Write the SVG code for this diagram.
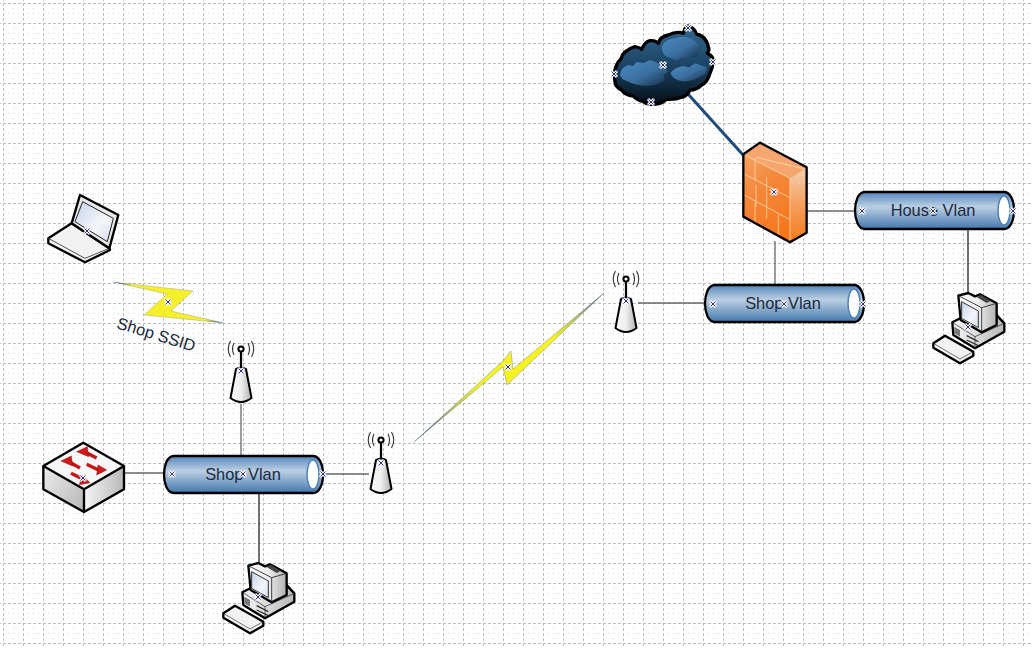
<svg xmlns="http://www.w3.org/2000/svg" xmlns:xlink="http://www.w3.org/1999/xlink" width="1032" height="648" viewBox="0 0 1032 648">
<style>
.lbl{font-family:"Liberation Sans",Arial,sans-serif;font-size:16.4px;fill:#1c2a3c;text-anchor:middle}
.conn{fill:none;stroke:#666;stroke-width:1.3}
.dark{fill:none;stroke:#222;stroke-width:1.3}
.ol{stroke:#000;stroke-linejoin:round;stroke-linecap:round}
.brick{fill:none;stroke:#fbd9a8;stroke-width:2.500}
.ashaft{fill:none;stroke:#c81414;stroke-width:10}
.ahead{fill:#d01818;stroke:#8a1010;stroke-width:1.500;stroke-linejoin:round}
</style>
<defs>
<pattern id="grid" x="3" y="3" width="20" height="20" patternUnits="userSpaceOnUse">
<rect width="20" height="20" fill="#fff"/>
<path d="M0 10.500H20M10.500 0V20" stroke="#d8d8d8" stroke-width="1" stroke-dasharray="1 4" fill="none"/>
<path d="M0 .5H20M.5 0V20" stroke="#bdbdbd" stroke-width="1" stroke-dasharray="3 2" fill="none"/>
</pattern>
<linearGradient id="cyl" x1="0" y1="0" x2="0" y2="1"><stop offset="0" stop-color="#5485ba"/><stop offset=".4" stop-color="#bccfe3"/><stop offset="1" stop-color="#4377ae"/></linearGradient>
<linearGradient id="body" x1="0" y1="0" x2="1" y2="0"><stop offset="0" stop-color="#f8f8f8"/><stop offset=".5" stop-color="#efefef"/><stop offset="1" stop-color="#b0b0b0"/></linearGradient>
<linearGradient id="swl" x1="0" y1="0" x2="1" y2="1"><stop offset="0" stop-color="#eee"/><stop offset="1" stop-color="#b5b5b5"/></linearGradient>
<linearGradient id="swr" x1="0" y1="0" x2="1" y2="0"><stop offset="0" stop-color="#f6f6f6"/><stop offset="1" stop-color="#b8b8b8"/></linearGradient>
<linearGradient id="scr" x1="0" y1="0" x2="1" y2="1"><stop offset="0" stop-color="#c4d3ea"/><stop offset=".6" stop-color="#f4f6fb"/><stop offset="1" stop-color="#d4deee"/></linearGradient>
<linearGradient id="fwf" gradientUnits="userSpaceOnUse" x1="430" y1="430" x2="620" y2="700"><stop offset="0" stop-color="#f7a469"/><stop offset=".35" stop-color="#f5873a"/><stop offset="1" stop-color="#f56f10"/></linearGradient>
<linearGradient id="fws" x1="0" y1="0" x2="0" y2="1"><stop offset="0" stop-color="#f3d2b4"/><stop offset=".55" stop-color="#f59a55"/><stop offset="1" stop-color="#f67b1c"/></linearGradient>
<linearGradient id="cl" x1="0" y1="0" x2="0" y2="1"><stop offset="0" stop-color="#33688f"/><stop offset=".5" stop-color="#1c4364"/><stop offset="1" stop-color="#050e18"/></linearGradient>
<linearGradient id="puff" x1="0" y1="0" x2="1" y2="1"><stop offset="0" stop-color="#4c8bc4"/><stop offset=".55" stop-color="#3a6f9f"/><stop offset="1" stop-color="#132c44"/></linearGradient>
<linearGradient id="l1" gradientUnits="userSpaceOnUse" x1="113" y1="282" x2="224" y2="323"><stop offset="0" stop-color="#27497a"/><stop offset=".16" stop-color="#f6f02a"/><stop offset=".84" stop-color="#f6f02a"/><stop offset="1" stop-color="#27497a"/></linearGradient>
<linearGradient id="l2" gradientUnits="userSpaceOnUse" x1="414" y1="442" x2="604" y2="293"><stop offset="0" stop-color="#27497a"/><stop offset=".2" stop-color="#b8c060"/><stop offset=".36" stop-color="#f6f222"/><stop offset=".72" stop-color="#f6f222"/><stop offset=".88" stop-color="#a8b070"/><stop offset="1" stop-color="#27497a"/></linearGradient>
<g id="m"><path d="M-3-3L3 3M-3 3L3-3" stroke="#fff" stroke-width="3"/><path d="M-2.500-2.500L2.500 2.500M-2.500 2.500L2.500-2.500" stroke="#2b2b9c" stroke-width="1"/></g>
<g id="ant">
<path d="M-7 -6Q-10 0 -7 6M7 -6Q10 0 7 6M-10.500 -8Q-15 0 -10.500 8M10.500 -8Q15 0 10.500 8" fill="none" stroke="#333" stroke-width="1.100"/>
<path d="M0 2V20" stroke="#000" stroke-width="2.200"/>
<circle r="2.600" fill="#fff" stroke="#000" stroke-width="2"/>
<path class="ol" d="M-5 20Q0 17 5 20L10.500 49Q0 57 -10.500 49Z" fill="url(#body)" stroke-width="2"/>
</g>
<g id="vlan">
<path class="ol" d="M10 0H149C155 0 159 8 159 18.500S155 37 149 37H10C3 37 0 27 0 18.500S3 0 10 0Z" fill="url(#cyl)" stroke-width="2.300"/>
<ellipse cx="149" cy="18.500" rx="6" ry="14.500" fill="#fff" stroke="#4f80b5" stroke-width="1.500"/>
</g>
<g id="pc">
<g transform="translate(215 555) scale(.3333)">
<path class="ol" d="M82 112L130 88L210 85L238 115V140L150 190L85 150Z" fill="url(#swr)" stroke-width="7"/>
<path d="M82 112L150 155L238 115M150 155V190" fill="none" stroke="#222" stroke-width="2"/>
<path d="M88 125L105 135V155L88 145Z" fill="#777"/>
<path d="M125 152L160 170M125 165L160 182" stroke="#333" stroke-width="4"/>
<path class="ol" d="M100 32L130 24L150 34L165 28L215 55V120L170 142L107 105Z" fill="url(#body)" stroke-width="7"/>
<path d="M100 32L170 68V142M170 68L215 55" fill="none" stroke="#222" stroke-width="2.500"/>
<path d="M155 36L168 30L198 47L185 54Z" fill="#444"/>
<path d="M110 50L160 78V128L110 100Z" fill="url(#scr)" stroke="#333" stroke-width="3"/>
<path class="ol" d="M60 152L145 200V212L105 235L25 188V175Z" fill="#f2f2f2" stroke-width="7"/>
<path d="M25 175L105 222L145 200" fill="none" stroke="#333" stroke-width="2"/>
</g>
</g>
</defs>
<rect width="1032" height="648" fill="url(#grid)"/>

<g id="connectors">
<path class="conn" d="M124 473H164"/>
<path class="conn" d="M241 404V456"/>
<path class="dark" d="M259 493V567"/>
<path class="conn" d="M323 474H369"/>
<path class="conn" d="M638 303H705"/>
<path class="conn" d="M775 241V285"/>
<path class="conn" d="M806 211H855"/>
<path class="dark" d="M968 229V294"/>
<path d="M688 94L744 156" fill="none" stroke="#1f4b7c" stroke-width="3"/>
</g>

<g id="cloud">
<g transform="translate(600 10) scale(.3333)">
<path class="ol" d="M42 192Q48 160 62 148Q68 122 105 110Q118 112 125 118Q135 95 150 92Q165 90 175 100Q180 80 205 75Q230 62 250 70Q255 50 265 48Q282 52 290 72Q318 78 325 110Q330 120 322 130Q342 140 340 155Q338 172 330 190Q322 218 305 225Q290 240 270 240Q262 258 245 262Q225 270 200 268Q180 285 160 282Q140 285 130 275Q110 270 100 258Q75 255 65 240Q45 230 45 215Z" fill="url(#cl)" stroke-width="10"/>
<path d="M185 110Q195 88 225 85Q250 78 262 82Q290 90 298 110Q300 135 285 145L275 138L262 148L245 142L230 152L215 145Q185 140 185 110Z" fill="url(#puff)"/>
<path d="M60 195Q62 172 85 165L100 168L110 155L130 160L150 150Q185 160 205 185L190 195L195 210L165 225Q120 232 85 215Q65 210 60 195Z" fill="url(#puff)"/>
<path d="M212 190Q222 172 250 168L268 172L285 160L320 172Q325 190 300 200Q270 218 240 212Q218 208 212 190Z" fill="url(#puff)"/>
</g>
<use xlink:href="#m" href="#m" x="688" y="28"/><use xlink:href="#m" href="#m" x="713" y="62"/><use xlink:href="#m" href="#m" x="614" y="74"/><use xlink:href="#m" href="#m" x="651" y="102"/><use xlink:href="#m" href="#m" x="663" y="65"/>
</g>

<g id="firewall">
<g transform="translate(600 10) scale(.3333)">
<path d="M430 433L480 398L620 472V668L570 697L430 620Z" fill="url(#fwf)"/>
<path d="M570 505L620 472V668L570 697Z" fill="url(#fws)"/>
<path d="M480 398L620 472L570 505L430 433Z" fill="#f6a76f"/>
<path class="brick" d="M440 438L570 505V690M468 442L610 476M432 492L568 562M432 555L568 628M465 445V512M500 500V565M468 525V590M500 565V625M535 615V680M465 580V640"/>
<path class="ol" d="M430 433L480 398L620 472V668L570 697L430 620Z" fill="none" stroke-width="7"/>
</g>
<use xlink:href="#m" href="#m" x="774" y="192"/>
</g>

<g id="vlan-house"><use xlink:href="#vlan" href="#vlan" x="855" y="192"/><text class="lbl" x="933" y="216">House Vlan</text><use xlink:href="#m" href="#m" x="862" y="211"/><use xlink:href="#m" href="#m" x="933" y="211"/><use xlink:href="#m" href="#m" x="1013" y="211"/></g>
<g id="vlan-shop-upper"><use xlink:href="#vlan" href="#vlan" x="705" y="285"/><text class="lbl" x="783" y="309">Shop Vlan</text><use xlink:href="#m" href="#m" x="713" y="304"/><use xlink:href="#m" href="#m" x="784" y="304"/><use xlink:href="#m" href="#m" x="863" y="304"/></g>
<g id="vlan-shop-lower"><use xlink:href="#vlan" href="#vlan" x="164" y="456"/><text class="lbl" x="243" y="480">Shop Vlan</text><use xlink:href="#m" href="#m" x="172" y="474"/><use xlink:href="#m" href="#m" x="243" y="474"/><use xlink:href="#m" href="#m" x="323" y="474"/></g>

<g id="antenna-1"><use xlink:href="#ant" href="#ant" x="241" y="349"/><use xlink:href="#m" href="#m" x="241" y="371"/></g>
<g id="antenna-2"><use xlink:href="#ant" href="#ant" x="381" y="440"/><use xlink:href="#m" href="#m" x="381" y="463"/></g>
<g id="antenna-3"><use xlink:href="#ant" href="#ant" x="626" y="279"/><use xlink:href="#m" href="#m" x="626" y="301"/></g>

<g id="pc-1"><use xlink:href="#pc" href="#pc"/><use xlink:href="#m" href="#m" x="258" y="597"/></g>
<g id="pc-2"><use xlink:href="#pc" href="#pc" x="710" y="-270"/><use xlink:href="#m" href="#m" x="968" y="327"/></g>

<g id="switch">
<g transform="translate(30 430) scale(.3333)">
<path d="M160 38L282 108L162 178L40 108Z" fill="#f7f7f7"/>
<path d="M40 108L162 178V246L40 178Z" fill="url(#swl)"/>
<path d="M162 178L282 108V178L162 246Z" fill="url(#swr)"/>
<path class="ol" d="M160 38L282 108V178L162 246L40 178V108ZM40 108L162 178L282 108M162 178V246" fill="none" stroke-width="7"/>
<path class="ashaft" d="M200 84L165 66M150 114L118 96M170 103L210 122M123 130L160 148"/>
<path class="ahead" d="M140 65L172 50L176 80Z"/>
<path class="ahead" d="M93 93L124 78L128 108Z"/>
<path class="ahead" d="M230 120L200 135L204 105Z"/>
<path class="ahead" d="M180 158L148 164L156 135Z"/>
</g>
<use xlink:href="#m" href="#m" x="83" y="478"/>
</g>

<g id="laptop">
<g transform="translate(30 180) scale(.3333)">
<path class="ol" d="M125 130L238 205L240 210L165 247L55 190V175Z" fill="#f2f2f2" stroke-width="7"/>
<path d="M55 175L165 235L238 205" fill="none" stroke="#333" stroke-width="2.500"/>
<path class="ol" d="M150 45L265 105L238 205L125 130Z" fill="#e8e8e8" stroke-width="7"/>
<path d="M158 65L250 115L232 185L135 125Z" fill="url(#scr)" stroke="#222" stroke-width="3"/>
</g>
<use xlink:href="#m" href="#m" x="87" y="231"/>
</g>

<g id="link-ssid">
<path d="M113 282L193 291L171 311L224 323L144 315L167 294Z" fill="url(#l1)" stroke="#27497a" stroke-opacity=".35" stroke-width=".6"/>
<use xlink:href="#m" href="#m" x="168" y="302"/>
<text class="lbl" x="156" y="340" transform="rotate(17 156 335)">Shop SSID</text>
</g>

<g id="link-wireless">
<path d="M414 442L503 361L511 351L513 369L604 293L507 385L503 367Z" fill="url(#l2)" stroke="#3a5070" stroke-opacity=".5" stroke-width=".6"/>
<use xlink:href="#m" href="#m" x="508" y="367"/>
</g>
</svg>
